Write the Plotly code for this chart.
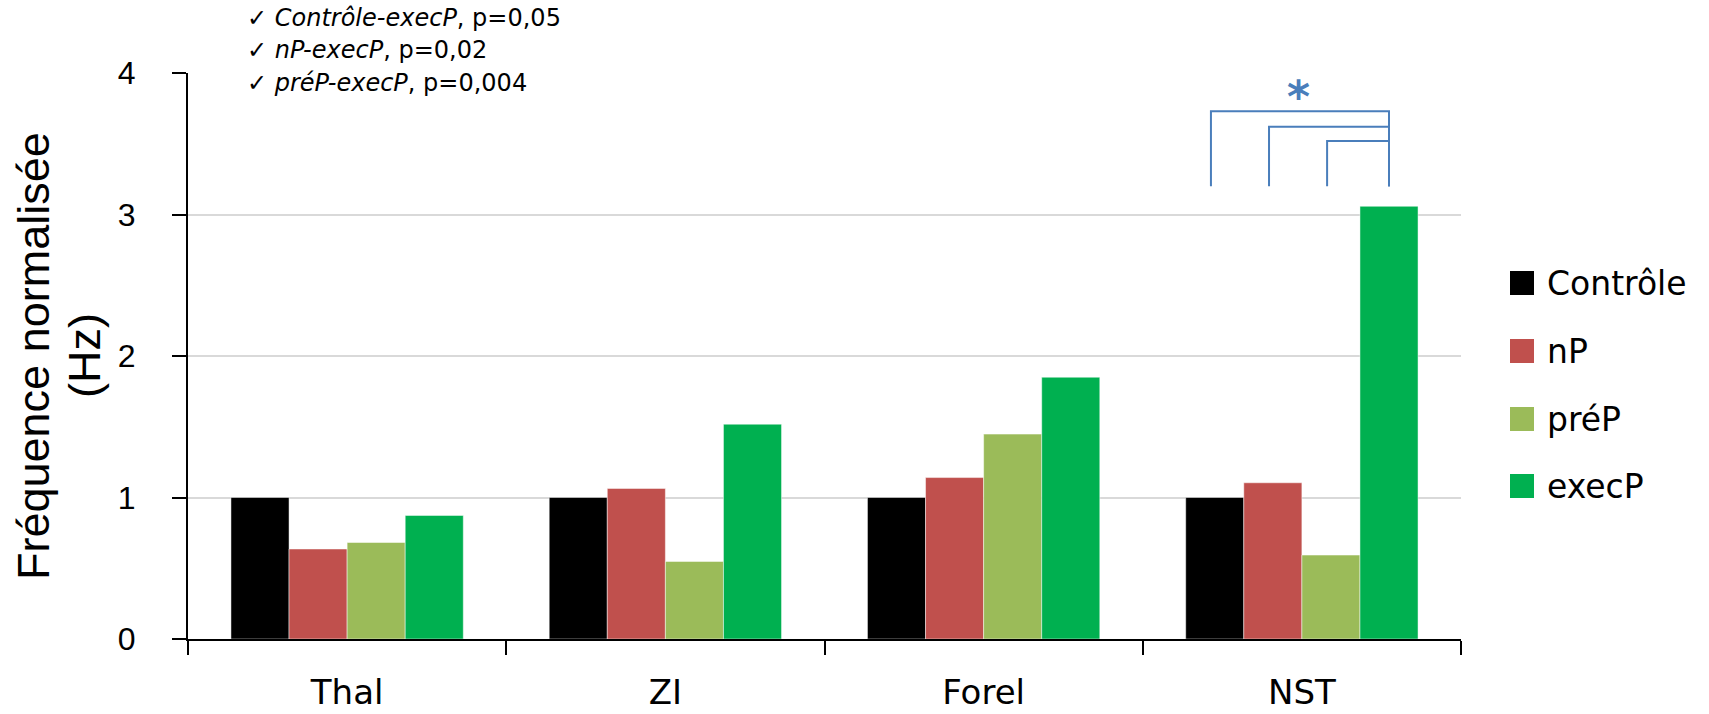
import plotly.graph_objects as go

categories = ["Thal", "ZI", "Forel", "NST"]
series_names = ["Contrôle", "nP", "préP", "execP"]
controle = [1.0, 1.0, 1.0, 1.0]
np_vals = [0.636, 1.064, 1.141, 1.104]
prep_vals = [0.682, 0.548, 1.448, 0.593]
execp_vals = [0.873, 1.518, 1.850, 3.058]
series_values = [controle, np_vals, prep_vals, execp_vals]
colors = ["#000000", "#C0504D", "#9BBB59", "#00B050"]

y_ticks = [0, 1, 2, 3, 4]
y_title_lines = ["Fréquence normalisée", "(Hz)"]
stats_lines = [("Contrôle-execP", "0,05"), ("nP-execP", "0,02"), ("préP-execP", "0,004")]
bracket_pairs = [("Contrôle", "execP"), ("nP", "execP"), ("préP", "execP")]
bracket_levels = [3.73, 3.62, 3.52]
bracket_bottom = 3.2
bracket_category = "NST"
star_y = 3.89

COMIC = "Comic Sans MS, DejaVu Sans, sans-serif"
ARIAL = "Arial, Liberation Sans, sans-serif"
BLUE = "#4A7EBB"

W, H = 1709, 714
ML, MR, MT, MB = 188, 248, 73, 75
PW = W - ML - MR
PH = H - MT - MB
BARGAP = 0.27

fig = go.Figure()
for name, vals, col in zip(series_names, series_values, colors):
    fig.add_trace(go.Bar(
        x=categories, y=vals, name=name,
        marker=dict(color=col, line=dict(width=0.8, color="rgba(255,255,255,0.6)")),
        showlegend=False,
    ))

# custom legend (large squares)
leg_y_px = [283, 351, 419, 486]
for name, col, ypx in zip(series_names, colors, leg_y_px):
    yc = (H - MB - ypx) / PH
    half = 12 / PH
    fig.add_shape(type="rect", xref="paper", yref="paper",
                  x0=(1510 - ML) / PW, x1=(1534 - ML) / PW,
                  y0=yc - half, y1=yc + half,
                  fillcolor=col, line=dict(width=0))
    fig.add_annotation(xref="paper", yref="paper", x=(1545 - ML) / PW, y=yc,
                       xanchor="left", yanchor="middle", showarrow=False,
                       text=name, font=dict(family=COMIC, size=33, color="black"))

# significance bracket
n = len(series_names)
bw = (1 - BARGAP) / n
ci = categories.index(bracket_category)
def bar_x(sname):
    k = series_names.index(sname)
    return ci - (1 - BARGAP) / 2 + bw * (k + 0.5)

for (a, b), lvl in zip(bracket_pairs, bracket_levels):
    xa, xb = bar_x(a) - 0.012, bar_x(b)
    fig.add_shape(type="path", xref="x", yref="y",
                  path=f"M {xa},{bracket_bottom} L {xa},{lvl} L {xb},{lvl} L {xb},{bracket_bottom}",
                  line=dict(color=BLUE, width=2))
fig.add_annotation(x=ci - 0.01, y=star_y, xref="x", yref="y", text="<b>*</b>", showarrow=False,
                   font=dict(family=COMIC, size=44, color=BLUE), yshift=-8)

# stats text
stat_y_px = [18, 50, 83]
for (pair, p), ypx in zip(stats_lines, stat_y_px):
    fig.add_annotation(xref="paper", yref="paper", x=(245 - ML) / PW, y=(H - MB - ypx) / PH,
                       xanchor="left", yanchor="middle", showarrow=False,
                       text=f"✓ <i>{pair}</i>, p={p}",
                       font=dict(family=COMIC, size=24, color="black"))

# y axis title (two lines, tight spacing)
for txt, xpx in zip(y_title_lines, [33, 84]):
    fig.add_annotation(xref="paper", yref="paper", x=(xpx - ML) / PW, y=0.5,
                       xanchor="center", yanchor="middle", showarrow=False, textangle=-90,
                       text=txt, font=dict(family=ARIAL, size=45, color="black"))

fig.update_layout(
    width=W, height=H,
    margin=dict(l=ML, r=MR, t=MT, b=MB, autoexpand=False),
    paper_bgcolor="white", plot_bgcolor="white",
    barmode="group", bargap=BARGAP, bargroupgap=0,
    showlegend=False,
)
fig.update_xaxes(
    type="category", tickson="boundaries", ticks="outside", ticklen=14,
    tickwidth=2, tickcolor="black", showline=True, linecolor="black", linewidth=2,
    showgrid=False, tickfont=dict(family=COMIC, size=34, color="black"),
    ticklabelstandoff=22, automargin=False,
)
fig.update_yaxes(
    range=[0, 4], tickvals=y_ticks, ticks="outside", ticklen=14, tickwidth=2,
    tickcolor="black", showline=True, linecolor="black", linewidth=2,
    showgrid=True, gridcolor="#D9D9D9", gridwidth=2, zeroline=False,
    tickfont=dict(family=ARIAL, size=32, color="black"), ticklabelstandoff=30,
    automargin=False,
)

fig.write_html("out.html")
